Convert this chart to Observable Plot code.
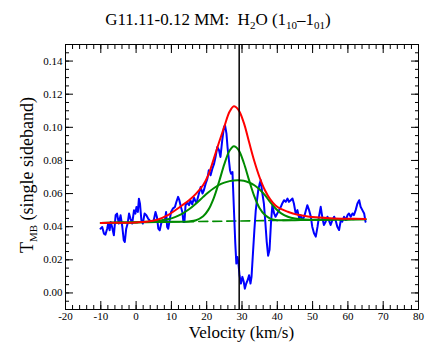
<!DOCTYPE html>
<html><head><meta charset="utf-8">
<script src="https://cdn.jsdelivr.net/npm/d3@7"></script>
<script src="https://cdn.jsdelivr.net/npm/@observablehq/plot@0.6"></script>
<style>body{margin:0;background:#fff} svg{display:block}</style>
</head><body><div id="chart"></div>
<script>
// Observed spectrum (km/s, K)
const velocity = [-10.1,-9.6,-9.1,-8.7,-8.2,-7.9,-7.5,-7.2,-6.8,-6.3,-5.8,-5.4,-4.9,-4.4,-3.9,-3.5,-3.2,-2.8,-2.4,-2.0,-1.6,-1.1,-0.6,-0.2,0.1,0.5,0.8,1.1,1.5,1.9,2.4,2.9,3.4,3.8,4.4,5.0,5.5,5.9,6.3,6.7,7.1,7.6,8.1,8.5,8.8,9.1,9.5,9.9,10.4,11.0,11.4,11.9,12.2,12.7,13.1,13.4,13.7,14.0,14.5,15.0,15.4,15.9,16.4,16.9,17.3,17.8,18.3,18.8,19.2,19.7,20.2,20.6,21.1,21.6,22.1,22.5,23.0,23.5,23.9,24.4,24.9,25.2,25.6,25.9,26.3,26.6,26.9,27.3,27.5,27.8,28.1,28.4,28.7,29.0,29.3,29.7,30.1,30.5,30.8,31.2,31.6,32.0,32.4,32.7,33.1,33.5,33.9,34.3,34.6,35.0,35.3,35.7,36.2,36.6,37.0,37.4,37.8,38.2,38.6,39.1,39.5,40.0,40.5,41.0,41.4,41.9,42.4,42.9,43.3,43.8,44.3,44.7,45.2,45.7,46.2,46.6,47.1,47.6,48.0,48.5,49.0,49.5,49.9,50.4,50.9,51.4,51.8,52.3,52.8,53.2,53.7,54.2,54.6,55.1,55.6,56.1,56.5,57.0,57.5,58.0,58.4,58.9,59.4,59.9,60.3,60.8,61.3,61.7,62.2,62.7,63.2,63.6,64.1,64.6,65.0];
const tmb = [0.0388,0.0398,0.0358,0.0352,0.0388,0.0419,0.0378,0.0429,0.0398,0.0348,0.0469,0.0479,0.0419,0.0469,0.0398,0.0318,0.0308,0.0388,0.0419,0.0479,0.0449,0.0419,0.0499,0.0479,0.0519,0.0489,0.0569,0.0539,0.0439,0.0419,0.0479,0.0469,0.0449,0.0439,0.0429,0.0439,0.0489,0.0459,0.0388,0.0378,0.0419,0.0439,0.0429,0.0489,0.0398,0.0388,0.0439,0.0489,0.0509,0.0519,0.0549,0.0580,0.0564,0.0519,0.0489,0.0429,0.0429,0.0529,0.0545,0.0530,0.0559,0.0535,0.0575,0.0550,0.0559,0.0600,0.0640,0.0600,0.0620,0.0660,0.0690,0.0741,0.0710,0.0750,0.0781,0.0821,0.0881,0.0861,0.0821,0.0922,0.1002,0.1012,0.0962,0.0881,0.0801,0.0741,0.0720,0.0730,0.0620,0.0459,0.0298,0.0177,0.0217,0.0177,0.0107,0.0057,0.0097,0.0067,0.0026,0.0057,0.0077,0.0107,0.0057,0.0097,0.0238,0.0378,0.0499,0.0570,0.0620,0.0660,0.0680,0.0610,0.0540,0.0430,0.0310,0.0225,0.0260,0.0420,0.0530,0.0480,0.0460,0.0480,0.0500,0.0520,0.0540,0.0560,0.0550,0.0570,0.0550,0.0560,0.0570,0.0540,0.0480,0.0500,0.0450,0.0470,0.0440,0.0460,0.0490,0.0530,0.0500,0.0460,0.0400,0.0360,0.0340,0.0400,0.0460,0.0520,0.0450,0.0410,0.0430,0.0460,0.0440,0.0410,0.0440,0.0460,0.0440,0.0400,0.0380,0.0440,0.0430,0.0460,0.0440,0.0470,0.0480,0.0460,0.0480,0.0470,0.0500,0.0540,0.0560,0.0520,0.0500,0.0480,0.0430];

// Fitted curves
const fitVelocity = [-10,-5,0,3,6,9,11,13,15,17,19,20.5,22,23.5,25,26.5,27.7,29,30.5,32,33.5,35,36.5,38,39.5,41,43,45,47.5,50,55,60,65];
const fitTotal  = [0.0423,0.0424,0.0426,0.0430,0.0442,0.0470,0.0498,0.0528,0.0560,0.0600,0.0652,0.0715,0.0810,0.0910,0.1005,0.1095,0.1127,0.1105,0.1028,0.0911,0.0795,0.0697,0.0620,0.0565,0.0528,0.0507,0.0490,0.0476,0.0466,0.0458,0.0451,0.0448,0.0447];
const fitNarrow = [0.0423,0.0425,0.0426,0.0427,0.0428,0.0429,0.0430,0.0430,0.0432,0.0439,0.0463,0.0503,0.0573,0.0671,0.0778,0.0860,0.0886,0.0864,0.0786,0.0681,0.0583,0.0511,0.0470,0.0449,0.0441,0.0439,0.0439,0.0439,0.0440,0.0441,0.0442,0.0444,0.0445];
const fitBroad  = [0.0423,0.0425,0.0427,0.0430,0.0435,0.0445,0.0458,0.0478,0.0505,0.0540,0.0580,0.0608,0.0632,0.0652,0.0666,0.0675,0.0679,0.0680,0.0677,0.0667,0.0650,0.0625,0.0590,0.0548,0.0510,0.0482,0.0460,0.0449,0.0443,0.0442,0.0443,0.0444,0.0445];
const baselineVelocity = [-10, 65];
const baselineT = [0.0423, 0.0445];
const systemicVelocity = [29.2];

// Axes
const xTicks = [-20,-10,0,10,20,30,40,50,60,70,80];
const yTicks = [0,0.02,0.04,0.06,0.08,0.10,0.12,0.14];
const yTickLabels = ["0.00","0.02","0.04","0.06","0.08","0.10","0.12","0.14"];
const xMinor = d3.range(-20, 80.001, 2);
const yMinor = d3.range(-0.01, 0.15001, 0.005);

const spectrum = velocity.map((v, i) => ({v, t: tmb[i]}));
const fit = fitVelocity.map((v, i) => ({v, total: fitTotal[i], narrow: fitNarrow[i], broad: fitBroad[i]}));
const baseline = baselineVelocity.map((v, i) => ({v, t: baselineT[i]}));

const GREEN = "#008b00";
const SERIF = "Liberation Serif";
const noText = () => "";
const ax = {fontFamily: SERIF, fontSize: 11, fill: "black", stroke: "black", label: null};

const plot = Plot.plot({
  width: 436, height: 361,
  marginLeft: 65, marginRight: 18, marginTop: 44, marginBottom: 52,
  x: {domain: [-20, 80]},
  y: {domain: [-0.01, 0.15]},
  style: {fontFamily: SERIF, fontSize: "11px", color: "black", background: "white"},
  marks: [
    Plot.line(baseline, {x: "v", y: "t", stroke: GREEN, strokeWidth: 1.6, strokeDasharray: "9,5"}),
    Plot.line(spectrum, {x: "v", y: "t", stroke: "#0000ff", strokeWidth: 2}),
    Plot.line(fit, {x: "v", y: "broad", stroke: GREEN, strokeWidth: 2, curve: "catmull-rom"}),
    Plot.line(fit, {x: "v", y: "narrow", stroke: GREEN, strokeWidth: 2, curve: "catmull-rom"}),
    Plot.line(fit, {x: "v", y: "total", stroke: "#ff0000", strokeWidth: 2, curve: "catmull-rom"}),
    Plot.ruleX(systemicVelocity, {stroke: "black", strokeWidth: 1.5}),
    Plot.frame({stroke: "black", strokeWidth: 1}),
    Plot.axisX(xTicks, {...ax, anchor: "bottom", tickSize: -8, tickPadding: 11, tickFormat: d => String(d)}),
    Plot.axisX(xMinor, {...ax, anchor: "bottom", tickSize: -4, tickFormat: noText}),
    Plot.axisX(xTicks, {...ax, anchor: "top", tickSize: -8, tickFormat: noText}),
    Plot.axisX(xMinor, {...ax, anchor: "top", tickSize: -4, tickFormat: noText}),
    Plot.axisY(yTicks, {...ax, anchor: "left", tickSize: -8, tickPadding: 11, tickFormat: (d, i) => yTickLabels[i]}),
    Plot.axisY(yMinor, {...ax, anchor: "left", tickSize: -4, tickFormat: noText}),
    Plot.axisY(yTicks, {...ax, anchor: "right", tickSize: -8, tickFormat: noText}),
    Plot.axisY(yMinor, {...ax, anchor: "right", tickSize: -4, tickFormat: noText})
  ]
});
document.getElementById("chart").append(plot);

const svg = d3.select(plot);
// Title
const title = svg.append("text").attr("x", 218).attr("y", 25).attr("text-anchor", "middle")
  .attr("font-family", SERIF).attr("font-size", 17).attr("fill", "black").style("white-space", "pre");
title.append("tspan").text("G11.11-0.12 MM:  H");
title.append("tspan").attr("font-size", 11).attr("dy", 4).text("2");
title.append("tspan").attr("dy", -4).text("O (1");
title.append("tspan").attr("font-size", 11).attr("dy", 4).text("10");
title.append("tspan").attr("dy", -4).text("\u20131");
title.append("tspan").attr("font-size", 11).attr("dy", 4).text("01");
title.append("tspan").attr("dy", -4).text(")");
// X label
svg.append("text").attr("x", 241.5).attr("y", 338).attr("text-anchor", "middle")
  .attr("font-family", SERIF).attr("font-size", 17).attr("fill", "black").text("Velocity (km/s)");
// Y label
const yl = svg.append("text").attr("transform", "translate(33,175) rotate(-90)").attr("text-anchor", "middle")
  .attr("font-family", SERIF).attr("font-size", 18).attr("fill", "black").style("white-space", "pre");
yl.append("tspan").text("T");
yl.append("tspan").attr("font-size", 11).attr("dy", 4).text("MB");
yl.append("tspan").attr("dy", -4).text(" (single sideband)");
</script>
</body></html>
